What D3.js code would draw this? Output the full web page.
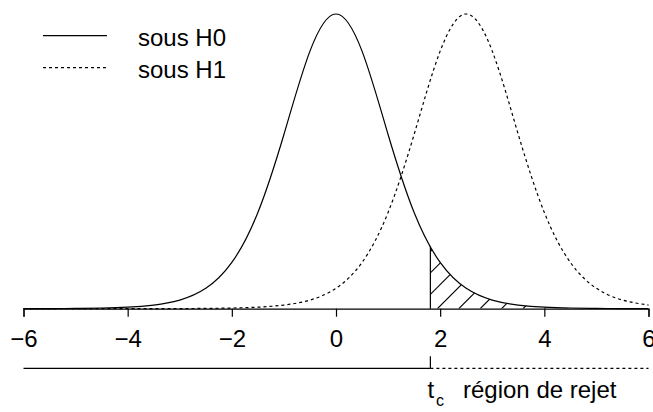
<!DOCTYPE html>
<html>
<head>
<meta charset="utf-8">
<script src="https://cdn.jsdelivr.net/npm/d3@7"></script>
<style>
  body { margin: 0; background: #fff; }
  svg text { font-family: "Liberation Sans", Arial, sans-serif; fill: #000; }
</style>
</head>
<body>
<div id="chart"></div>
<script>
// x grid of the curves (step 0.5)
var xGrid = [-6, -5.5, -5, -4.5, -4, -3.5, -3, -2.5, -2, -1.5, -1, -0.5, 0,
             0.5, 1, 1.5, 2, 2.5, 3, 3.5, 4, 4.5, 5, 5.5, 6];

// density under H0
var h0Values = [0.0001, 0.0002, 0.0004, 0.0009, 0.002, 0.0048, 0.0114, 0.0269, 0.0611, 0.127, 0.230, 0.340, 0.389,
                0.340, 0.230, 0.127, 0.0611, 0.0269, 0.0114, 0.0048, 0.002, 0.0009, 0.0004, 0.0002, 0.0001];

// density under H1 (centred around 2.5)
var h1Values = [0, 0, 0, 0, 0, 0.0001, 0.0002, 0.0004, 0.0009, 0.002, 0.0048, 0.0114, 0.0269,
                0.0611, 0.127, 0.230, 0.340, 0.389, 0.340, 0.230, 0.127, 0.0611, 0.0269, 0.0114, 0.0048];

var xTicks = [-6, -4, -2, 0, 2, 4, 6];
var legendLabels = ["sous H0", "sous H1"];

var tc = 1.812;        // critical value
var tcHeight = 0.082;  // H0 density at tc

var width = 653, height = 412;

var svg = d3.select("#chart")
  .append("svg")
  .attr("width", width)
  .attr("height", height);

var x = d3.scaleLinear().domain([-6, 6]).range([23.5, 648.5]);
var y = d3.scaleLinear().domain([0, 0.389]).range([308.7, 14]);

var h0 = xGrid.map(function(d, i) { return {x: d, y: h0Values[i]}; });
var h1 = xGrid.map(function(d, i) { return {x: d, y: h1Values[i]}; });

var line = d3.line()
  .x(function(d) { return x(d.x); })
  .y(function(d) { return y(d.y); })
  .curve(d3.curveNatural);

var area = d3.area()
  .x(function(d) { return x(d.x); })
  .y0(y(0))
  .y1(function(d) { return y(d.y); })
  .curve(d3.curveNatural);

// clip for the rejection region hatching
var defs = svg.append("defs");
defs.append("clipPath").attr("id", "underH0")
  .append("path").attr("d", area(h0));
defs.append("clipPath").attr("id", "rightOfTc")
  .append("rect")
  .attr("x", x(tc)).attr("y", 0)
  .attr("width", x(6) - x(tc)).attr("height", y(0));

var hatch = svg.append("g").attr("clip-path", "url(#rightOfTc)")
  .append("g").attr("clip-path", "url(#underH0)");

var step = 21.4;
for (var k = -3; k < 12; k++) {
  var x0 = x(tc) + 7 + k * step;
  hatch.append("line")
    .attr("x1", x0).attr("y1", y(0))
    .attr("x2", x0 + 200).attr("y2", y(0) - 200)
    .attr("stroke", "#000").attr("stroke-width", 1.1);
}

// vertical edge of the hatched region
svg.append("line")
  .attr("x1", x(tc)).attr("x2", x(tc))
  .attr("y1", y(0)).attr("y2", y(tcHeight))
  .attr("stroke", "#000").attr("stroke-width", 1.2);

// curves
svg.append("path")
  .attr("d", line(h0))
  .attr("fill", "none")
  .attr("stroke", "#000")
  .attr("stroke-width", 1.2);

svg.append("path")
  .attr("d", line(h1))
  .attr("fill", "none")
  .attr("stroke", "#000")
  .attr("stroke-width", 1.2)
  .attr("stroke-dasharray", "3,3");

// axis at y = 0
var axis = svg.append("g")
  .attr("transform", "translate(0," + y(0) + ")")
  .call(d3.axisBottom(x).tickValues(xTicks).tickSize(8).tickPadding(13)
    .tickFormat(function(d) { return String(d).replace("-", "\u2212"); }));
axis.select(".domain").attr("stroke-width", 1.2);
axis.selectAll(".tick line").attr("stroke-width", 1.2);
axis.selectAll(".tick text")
  .style("font-size", "24px")
  .attr("font-family", "Liberation Sans, Arial, sans-serif");

// acceptance / rejection line below the axis
var yLow = 368.3;
svg.append("line")
  .attr("x1", x(-6)).attr("x2", x(tc))
  .attr("y1", yLow).attr("y2", yLow)
  .attr("stroke", "#000").attr("stroke-width", 1.2);
svg.append("line")
  .attr("x1", x(tc)).attr("x2", x(tc))
  .attr("y1", yLow - 12).attr("y2", yLow)
  .attr("stroke", "#000").attr("stroke-width", 1.2);
svg.append("line")
  .attr("x1", x(tc)).attr("x2", x(6))
  .attr("y1", yLow).attr("y2", yLow)
  .attr("stroke", "#000").attr("stroke-width", 1.2)
  .attr("stroke-dasharray", "3,3");

var tLabel = svg.append("text")
  .attr("x", x(tc) - 3)
  .attr("y", 398)
  .style("font-size", "24px");
tLabel.append("tspan").text("t");
tLabel.append("tspan").attr("dx", 2).attr("dy", 8).style("font-size", "16px").text("c");

svg.append("text")
  .attr("x", 463)
  .attr("y", 398)
  .style("font-size", "24px")
  .text("r\u00e9gion de rejet");

// legend
var legend = svg.selectAll(".legend")
  .data(legendLabels)
  .enter().append("g")
  .attr("class", "legend")
  .attr("transform", function(d, i) { return "translate(0," + (35.7 + i * 32) + ")"; });

legend.append("line")
  .attr("x1", 43).attr("x2", 107)
  .attr("y1", 0).attr("y2", 0)
  .attr("stroke", "#000").attr("stroke-width", 1.2)
  .attr("stroke-dasharray", function(d, i) { return i == 1 ? "3,3" : null; });

legend.append("text")
  .attr("x", 138)
  .attr("y", 2)
  .attr("dy", "0.35em")
  .style("font-size", "24px")
  .text(function(d) { return d; });
</script>
</body>
</html>
